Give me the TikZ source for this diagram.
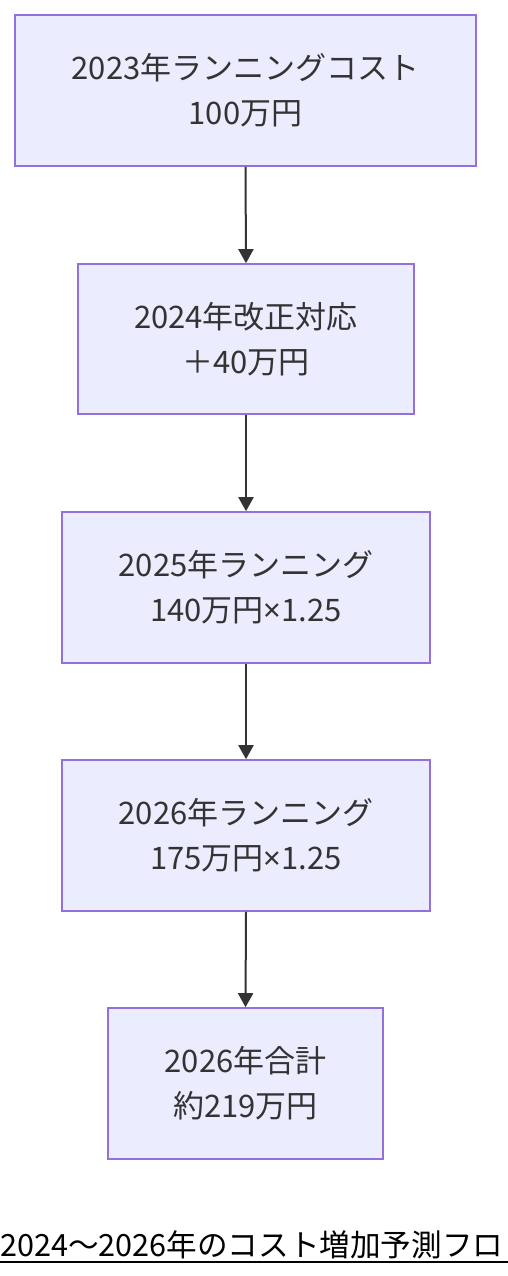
\documentclass[tikz,border=0pt]{standalone}
\usepackage{fontspec}
\setmainfont{Noto Sans CJK JP}
\newfontfamily\latinfont{Noto Sans}
\usetikzlibrary{arrows.meta}
\definecolor{boxfill}{HTML}{ECECFF}
\definecolor{boxline}{HTML}{9370DB}
\definecolor{txt}{HTML}{333333}
\definecolor{arr}{HTML}{333333}
\newcommand{\mytimes}{{\latinfont ×}}
\tikzset{
  flowbox/.style={draw=boxline, fill=boxfill, line width=1.6pt, text=txt,
    align=center, inner sep=0pt, font=\fontsize{31}{45}\selectfont},
  flowarrow/.style={draw=arr, line width=2pt, -{Triangle[length=14pt,width=15pt]}}
}
\begin{document}
\begin{tikzpicture}[x=1pt,y=1pt]
\useasboundingbox (0,0) rectangle (508,-1276);
\node[flowbox, minimum width=461pt, minimum height=151pt] (b1) at (245.5,-90.5) {2023年ランニングコスト\\100万円};
\node[flowbox, minimum width=336pt, minimum height=150pt] (b2) at (246,-339) {2024年改正対応\\＋40万円};
\node[flowbox, minimum width=368pt, minimum height=151pt] (b3) at (246,-587.5) {2025年ランニング\\140万円\mytimes1.25};
\node[flowbox, minimum width=368pt, minimum height=151pt] (b4) at (246,-835.5) {2026年ランニング\\175万円\mytimes1.25};
\node[flowbox, minimum width=275pt, minimum height=151pt] (b5) at (245.5,-1083.5) {2026年合計\\約219万円};
\draw[flowarrow] (b1.south) -- (b2.north);
\draw[flowarrow] (b2.south) -- (b3.north);
\draw[flowarrow] (b3.south) -- (b4.north);
\draw[flowarrow] (b4.south) -- (b5.north);
\node[anchor=base west, inner sep=0pt, text=black, font=\fontsize{30.6}{36}\selectfont] (title) at (0,-1256) {2024〜2026年のコスト増加予測フロ};
\coordinate (ul) at (0,-1262);
\coordinate (ur) at (508,-1262);
\draw[black, line width=1.6pt] (ul) -- (ur);
\end{tikzpicture}
\end{document}
